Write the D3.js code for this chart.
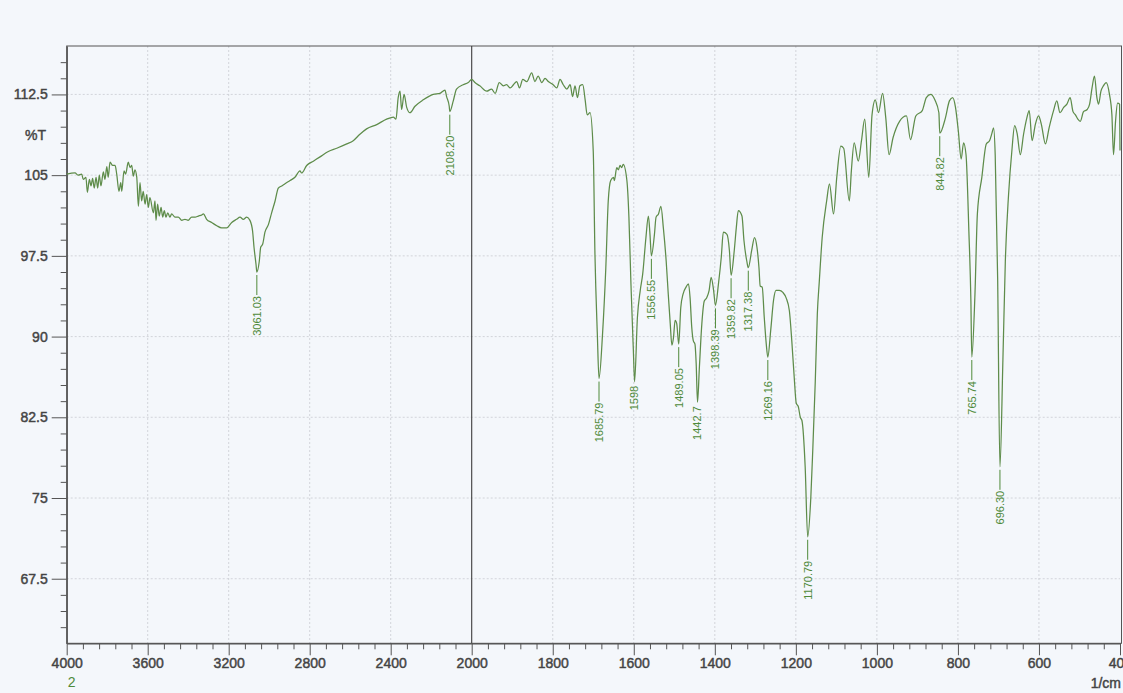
<!DOCTYPE html>
<html>
<head>
<meta charset="utf-8">
<script src="https://cdn.jsdelivr.net/npm/d3@7"></script>
<style>
  html, body { margin: 0; padding: 0; background: #f4f7fb; }
  svg { display: block; font-family: "Liberation Sans", Arial, sans-serif; }
</style>
</head>
<body>
<script>
// IR transmittance spectrum, wavenumber (1/cm) against %T
const waveNumbers = [
  4000, 3959, 3943, 3926, 3918, 3905, 3898, 3888, 3880, 3872, 3864, 3855, 3847, 3839, 3831,
  3819, 3811, 3802, 3795, 3786, 3773, 3761, 3753, 3742, 3733, 3728, 3717, 3709, 3696, 3687,
  3679, 3671, 3663, 3654, 3646, 3638, 3630, 3622, 3613, 3605, 3597, 3589, 3572, 3564, 3559,
  3551, 3543, 3534, 3526, 3518, 3510, 3501, 3490, 3482, 3465, 3449, 3432, 3416, 3400, 3383,
  3366, 3350, 3333, 3325, 3309, 3284, 3259, 3235, 3210, 3185, 3161, 3144, 3128, 3111, 3095,
  3082, 3075, 3065, 3049, 3042, 3032, 3021, 3004, 2988, 2971, 2955, 2938, 2922, 2897, 2873,
  2848, 2840, 2815, 2782, 2749, 2708, 2667, 2617, 2585, 2552, 2519, 2469, 2420, 2387, 2374,
  2363, 2354, 2346, 2334, 2321, 2305, 2280, 2239, 2190, 2157, 2132, 2124, 2111, 2091, 2075,
  2042, 2017, 2000,
  1992, 1980, 1963, 1951, 1942, 1932, 1922, 1914, 1905, 1897, 1889, 1882, 1874, 1864, 1852,
  1844, 1836, 1827, 1819, 1811, 1799, 1790, 1782, 1774, 1765, 1757, 1751, 1745, 1739, 1733,
  1726, 1720, 1715, 1708, 1700, 1696, 1690, 1677, 1669, 1663, 1657, 1650, 1648, 1642, 1638,
  1634, 1630, 1626, 1617, 1612, 1607, 1601, 1591, 1584, 1578, 1570, 1564, 1560, 1549, 1545,
  1539, 1533, 1527, 1520, 1515, 1510, 1506, 1502, 1498, 1494, 1484, 1478, 1471, 1465, 1461,
  1457, 1453, 1449, 1446, 1438, 1432, 1426, 1420, 1414, 1409, 1403, 1391, 1384, 1379, 1370,
  1364, 1352, 1347, 1342, 1333, 1328, 1321, 1309, 1302, 1296, 1291, 1288, 1283, 1278, 1273,
  1262, 1255, 1249, 1241, 1232, 1224, 1216, 1210, 1204, 1199, 1194, 1189, 1185, 1177, 1163,
  1158, 1152, 1147, 1142, 1135, 1124, 1117, 1107, 1099, 1089, 1082, 1068, 1063, 1056, 1046,
  1038, 1030, 1020, 1012, 1004, 996, 986, 978, 970, 960, 944, 927, 917, 904, 888,
  878, 867, 857, 847, 831, 821, 813, 806, 799, 792, 786, 780, 773, 768, 758,
  752, 741, 730, 722, 716, 712, 708, 702, 689, 683, 675, 667, 660, 654, 646,
  638, 630, 624, 617, 609, 601, 594, 584, 575, 564, 556, 548, 539, 531, 523,
  516, 510, 504, 498, 490, 481, 475, 469, 463, 457, 453, 447, 441, 434, 426,
  420, 416, 411, 406, 401, 400
];
const transmittance = [
  105.1, 105.2, 105.0, 105.1, 104.6, 104.8, 103.4, 104.6, 104.0, 104.7, 103.8, 104.8, 103.8, 105.0, 104.0,
  105.3, 104.6, 105.8, 104.8, 106.2, 105.9, 105.9, 105.1, 103.5, 104.3, 103.5, 105.4, 105.1, 106.2, 105.7,
  105.9, 104.9, 105.5, 104.8, 102.1, 104.3, 102.6, 103.5, 102.3, 103.2, 102.0, 102.9, 101.5, 102.6, 100.8,
  102.3, 101.2, 102.0, 101.1, 101.7, 101.1, 101.5, 101.1, 101.4, 101.1, 101.1, 100.8, 100.9, 100.8, 101.1,
  101.1, 101.2, 101.3, 101.4, 100.9, 100.6, 100.3, 100.1, 100.1, 100.6, 100.9, 101.1, 100.9, 101.1, 100.8,
  99.8, 98.3, 96.7, 97.0, 98.3, 98.6, 99.7, 100.4, 101.5, 102.6, 103.8, 104.0, 104.2, 104.5, 104.8,
  105.4, 105.2, 105.9, 106.3, 106.7, 107.2, 107.5, 107.9, 108.2, 108.8, 109.3, 109.7, 110.2, 110.4, 110.2,
  112.2, 112.8, 111.1, 112.5, 111.3, 110.8, 111.4, 112.0, 112.5, 112.6, 112.9, 112.3, 111.4, 111.9, 113.0,
  113.4, 113.6, 113.9,
  113.6, 113.3, 112.8, 113.0, 112.6, 113.6, 113.3, 113.4, 113.1, 113.4, 113.7, 113.1, 113.9, 113.7, 114.5,
  113.7, 114.2, 113.6, 114.0, 113.7, 113.4, 113.1, 113.9, 113.4, 113.0, 113.4, 112.3, 113.3, 112.2, 113.3,
  113.4, 112.0, 110.6, 110.8, 107.2, 98.0, 90.3, 90.3, 96.4, 102.6, 104.5, 104.8, 104.5, 105.7, 105.5,
  105.9, 105.7, 106.0, 104.5, 101.1, 94.9, 88.7, 91.8, 94.3, 95.8, 99.2, 101.2, 99.5, 99.5, 101.1,
  101.4, 102.1, 100.1, 97.0, 94.0, 91.2, 89.2, 89.9, 91.5, 91.2, 92.7, 94.0, 94.6, 94.9, 93.6,
  90.9, 89.6, 89.3, 87.5, 87.2, 91.2, 93.3, 93.6, 94.3, 95.5, 94.3, 94.9, 97.4, 99.7, 99.5,
  98.0, 98.0, 100.1, 101.7, 101.2, 98.9, 97.0, 98.0, 99.2, 98.3, 96.4, 94.7, 94.6, 91.8, 89.3,
  90.6, 93.4, 94.3, 94.3, 94.1, 93.6, 92.4, 89.6, 86.2, 83.8, 83.5, 82.5, 82.2, 77.9, 75.1,
  79.7, 85.9, 92.1, 95.2, 99.2, 102.6, 104.2, 101.4, 104.8, 107.7, 107.5, 102.6, 105.4, 108.0, 106.3,
  108.2, 110.2, 104.8, 110.6, 112.0, 110.8, 112.6, 110.3, 106.9, 108.5, 110.0, 110.5, 108.3, 110.5, 111.0,
  112.2, 112.5, 112.0, 110.8, 110.3, 111.9, 112.2, 111.3, 109.1, 106.5, 108.0, 106.9, 99.8, 93.3, 93.9,
  101.4, 104.8, 107.9, 108.2, 108.9, 109.4, 106.9, 95.5, 87.8, 97.0, 103.2, 107.2, 109.6, 108.9, 106.9,
  108.8, 110.3, 111.0, 108.2, 109.7, 110.5, 109.7, 107.9, 109.4, 111.0, 111.9, 110.8, 111.3, 111.6, 112.2,
  110.9, 110.6, 110.2, 110.0, 110.9, 111.1, 111.6, 113.1, 114.2, 112.2, 111.6, 112.8, 113.3, 113.6, 112.5,
  110.6, 106.9, 110.0, 111.7, 111.6, 107.3
];

// Labelled band positions
const peakWaveNumbers = [3061.03, 2108.20, 1685.79, 1598, 1556.55, 1489.05, 1442.7, 1398.39, 1359.82, 1317.38, 1269.16, 1170.79, 844.82, 765.74, 696.30];
const peakTransmittance = [96.0, 110.9, 86.1, 85.8, 97.5, 89.3, 83.9, 92.9, 95.7, 96.4, 88.1, 71.4, 108.9, 88.1, 77.9];
const peakLabels = ["3061.03", "2108.20", "1685.79", "1598", "1556.55", "1489.05", "1442.7", "1398.39", "1359.82", "1317.38", "1269.16", "1170.79", "844.82", "765.74", "696.30"];

// Axis ticks
const xMajorTicks = [4000, 3600, 3200, 2800, 2400, 2000, 1800, 1600, 1400, 1200, 1000, 800, 600, 400];
const yMajorTicks = [67.5, 75, 82.5, 90, 97.5, 105, 112.5];
const yAxisTitle = "%T";
const xAxisUnit = "1/cm";
const sampleNumber = "2";

const W = 1123, H = 693;
const plotLeft = 66.7, plotRight = 1120, plotTop = 46, plotBottom = 643.3;

// The x axis is split: 4000-2000 at half the scale of 2000-400
const x = d3.scaleLinear().domain([4000, 2000, 400]).range([plotLeft, 471.7, plotRight]);
const y = d3.scaleLinear().domain([61.5, 117]).range([plotBottom, plotTop]);

const svg = d3.select("body").append("svg").attr("width", W).attr("height", H);
svg.append("rect").attr("width", W).attr("height", H).attr("fill", "#f4f7fb");

const axisColor = "#555555";
const textColor = "#444444";
const specColor = "#5e8c4a";
const labelColor = "#4f8a3a";

// dotted grid
const grid = svg.append("g").attr("stroke", "#c9ccd2").attr("stroke-width", 0.8).attr("stroke-dasharray", "2,2");
grid.selectAll("line.gx").data(xMajorTicks.filter(d => d !== 4000 && d !== 2000 && d !== 400))
  .join("line").attr("class", "gx").attr("x1", d => x(d)).attr("x2", d => x(d)).attr("y1", plotTop).attr("y2", plotBottom);
grid.selectAll("line.gy").data(yMajorTicks)
  .join("line").attr("class", "gy").attr("x1", plotLeft).attr("x2", plotRight).attr("y1", d => y(d)).attr("y2", d => y(d));

// frame
svg.append("rect").attr("x", plotLeft).attr("y", plotTop).attr("width", plotRight - plotLeft + 1.5).attr("height", plotBottom - plotTop)
  .attr("fill", "none").attr("stroke", axisColor).attr("stroke-width", 1);
// split line at 2000
svg.append("line").attr("x1", x(2000)).attr("x2", x(2000)).attr("y1", plotTop).attr("y2", plotBottom)
  .attr("stroke", "#3c3c3c").attr("stroke-width", 1.1);

// minor ticks
const xMinor = d3.range(4000, 2000, -80).concat(d3.range(2000, 399, -40)).filter(d => !xMajorTicks.includes(d));
const yMinor = d3.range(63, 117, 1.5).filter(d => !yMajorTicks.some(t => Math.abs(t - d) < 1e-6));

const xAxisMinor = d3.axisBottom(x).tickValues(xMinor).tickSize(6).tickSizeOuter(0).tickFormat("");
const xAxisMajor = d3.axisBottom(x).tickValues(xMajorTicks).tickSize(12).tickSizeOuter(0).tickPadding(3).tickFormat(d => String(d));
const yAxisMinor = d3.axisLeft(y).tickValues(yMinor).tickSize(6).tickSizeOuter(0).tickFormat("");
const yAxisMajor = d3.axisLeft(y).tickValues(yMajorTicks).tickSize(15).tickSizeOuter(0).tickPadding(4).tickFormat(d => String(d));

// slightly heavier lettering, like the printed scale
function heavyText(sel) {
  sel.attr("fill", textColor).attr("stroke", textColor).attr("stroke-width", 0.45)
    .style("font-size", "14px").style("font-family", "'Liberation Sans', Arial, sans-serif");
}
function styleAxis(g) {
  g.select(".domain").attr("stroke", axisColor);
  g.selectAll(".tick line").attr("stroke", axisColor);
  g.selectAll(".tick text").call(heavyText);
}
svg.append("g").attr("transform", `translate(0,${plotBottom})`).call(xAxisMinor).call(styleAxis);
svg.append("g").attr("transform", `translate(0,${plotBottom})`).call(xAxisMajor).call(styleAxis);
svg.append("g").attr("transform", `translate(${plotLeft},0)`).call(yAxisMinor).call(styleAxis);
svg.append("g").attr("transform", `translate(${plotLeft},0)`).call(yAxisMajor).call(styleAxis);

// axis captions
svg.append("text").attr("x", 46).attr("y", y(108.75)).attr("dy", "0.35em").attr("text-anchor", "end")
  .call(heavyText).text(yAxisTitle);
svg.append("text").attr("x", 1121).attr("y", 688).attr("text-anchor", "end")
  .call(heavyText).text(xAxisUnit);
svg.append("text").attr("x", x(4000) + 5).attr("y", 687).attr("text-anchor", "middle")
  .attr("fill", labelColor).style("font-size", "14px").text(sampleNumber);

// spectrum: measured points plus the labelled band minima
const points = waveNumbers.map((w, i) => [w, transmittance[i]])
  .concat(peakWaveNumbers.map((w, i) => [w, peakTransmittance[i]]))
  .sort((a, b) => b[0] - a[0]);

const line = d3.line().x(d => x(d[0])).y(d => y(d[1])).curve(d3.curveMonotoneX);
svg.append("path").datum(points).attr("d", line)
  .attr("fill", "none").attr("stroke", specColor).attr("stroke-width", 1.25).attr("stroke-linejoin", "round");

// band labels: leader line below the minimum, then the rotated value
const labels = svg.append("g");
peakWaveNumbers.forEach((w, i) => {
  const px = x(w), py = y(peakTransmittance[i]);
  const full = /\.\d\d$/.test(peakLabels[i]);
  const startY = full ? py + 24 : py + 4;
  if (full) {
    labels.append("line").attr("x1", px).attr("x2", px).attr("y1", py + 3).attr("y2", startY - 1)
      .attr("stroke", labelColor).attr("stroke-width", 1);
  }
  labels.append("text")
    .attr("transform", `translate(${px},${startY}) rotate(-90)`)
    .attr("text-anchor", "end").attr("dy", "0.35em")
    .attr("fill", labelColor).style("font-size", "11px")
    .text(peakLabels[i]);
});
</script>
</body>
</html>
